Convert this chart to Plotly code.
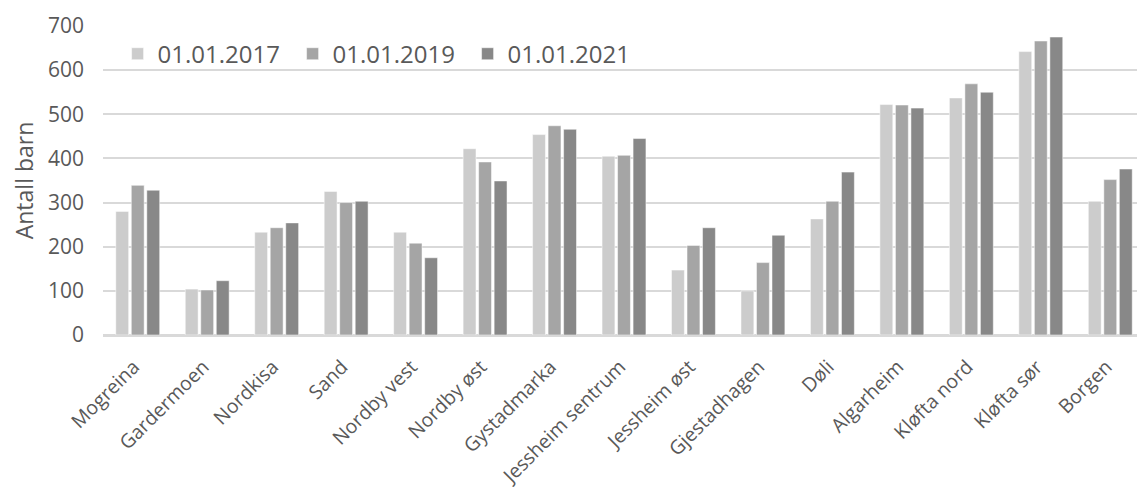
import plotly.graph_objects as go

categories = ["Mogreina", "Gardermoen", "Nordkisa", "Sand", "Nordby vest", "Nordby øst",
              "Gystadmarka", "Jessheim sentrum", "Jessheim øst", "Gjestadhagen", "Døli",
              "Algarheim", "Kløfta nord", "Kløfta sør", "Borgen"]
v2017 = [280, 104, 233, 325, 233, 422, 454, 405, 147, 100, 263, 522, 537, 642, 303]
v2019 = [339, 102, 243, 300, 208, 392, 474, 407, 203, 164, 303, 521, 569, 666, 352]
v2021 = [328, 123, 254, 303, 175, 349, 466, 445, 243, 226, 369, 514, 550, 675, 376]
series_names = ["01.01.2017", "01.01.2019", "01.01.2021"]
colors = ["#CCCCCC", "#A5A5A5", "#888888"]
yticks = [0, 100, 200, 300, 400, 500, 600, 700]

FONT = "Open Sans"
TXT = "#595959"

fig = go.Figure()
for name, vals, col in zip(series_names, [v2017, v2019, v2021], colors):
    fig.add_trace(go.Bar(x=categories, y=vals, name=name,
                         marker=dict(color=col, line=dict(color="white", width=0.5))))

# page body has an 8px margin, so the figure is sized/positioned to compensate
fig.update_layout(
    width=1137, height=483,
    margin=dict(l=95, r=0, t=18, b=156),
    paper_bgcolor="white", plot_bgcolor="white",
    barmode="group", bargap=0.33, bargroupgap=0.17,
    font=dict(family=FONT, color=TXT, size=18),
    legend=dict(orientation="h", x=0.014, y=0.909, xanchor="left", yanchor="middle",
                font=dict(size=24, color=TXT, family=FONT),
                bgcolor="rgba(0,0,0,0)", entrywidth=130, entrywidthmode="pixels",
                traceorder="normal"),
    showlegend=True,
)
fig.update_xaxes(tickangle=-45, tickfont=dict(size=19.5, color=TXT, family=FONT),
                 showgrid=False, showline=True, linecolor="#D9D9D9", linewidth=1.5,
                 ticks="", ticklabelstandoff=11, ticklabelshift=-4, automargin=False)
fig.update_yaxes(range=[0, 700], tickvals=yticks, showgrid=True, gridcolor="#D9D9D9",
                 gridwidth=1.5, zeroline=True, zerolinecolor="#D9D9D9", zerolinewidth=1.5,
                 tickfont=dict(size=21, color=TXT, family=FONT), ticks="",
                 ticklabelstandoff=18,
                 title=dict(text="Antall barn", font=dict(size=23, color=TXT, family=FONT),
                            standoff=10),
                 automargin=False)

fig.write_html("out.html")
